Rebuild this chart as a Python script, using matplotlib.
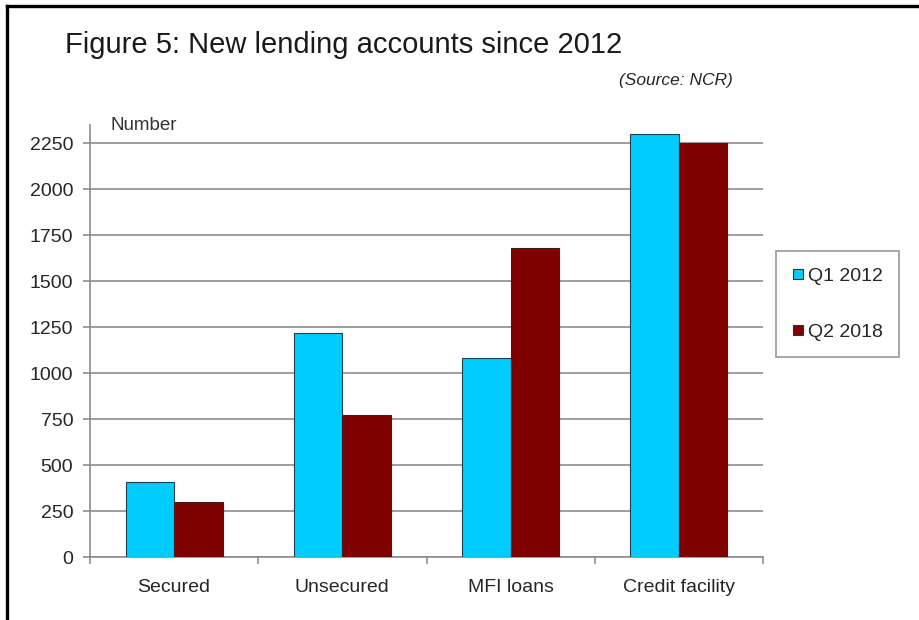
import numpy as np
import matplotlib.pyplot as plt
from matplotlib.lines import Line2D

plt.rcParams['font.family'] = ['Liberation Sans', 'DejaVu Sans']

categories = ['Secured', 'Unsecured', 'MFI loans', 'Credit facility']
q1_2012 = [410, 1220, 1080, 2300]
q2_2018 = [300, 770, 1680, 2250]
series_names = ['Q1 2012', 'Q2 2018']
yticks = [0, 250, 500, 750, 1000, 1250, 1500, 1750, 2000, 2250]

cyan = '#00ccff'
maroon = '#800000'
grid_grey = '#8c8c8c'
text_col = '#262626'

fig = plt.figure(figsize=(9.19, 6.2), dpi=100)
ax = fig.add_axes([0.0979, 0.1016, 0.7324, 0.6968])

x = np.arange(len(categories))
w = 0.288
ax.bar(x - w / 2, q1_2012, w, color=cyan, edgecolor='#1f3f4f', linewidth=0.8, zorder=3)
ax.bar(x + w / 2, q2_2018, w, color=maroon, edgecolor='#3a2020', linewidth=0.8, zorder=3)

ax.set_xlim(-0.5, len(categories) - 0.5)
ax.set_ylim(0, 2350)
ax.set_yticks(yticks)
ax.set_yticklabels([str(v) for v in yticks], fontsize=14, color=text_col)
ax.yaxis.grid(True, color=grid_grey, linewidth=1.2, zorder=0)
ax.set_axisbelow(True)

# labels sit in the middle of each group, tick marks on the boundaries
ax.set_xticks(x)
ax.set_xticklabels(categories, fontsize=14, color=text_col)
ax.set_xticks(np.arange(-0.5, len(categories)), minor=True)
ax.tick_params(axis='x', which='major', length=0, pad=16)
ax.tick_params(axis='x', which='minor', length=5, color=grid_grey, width=1.2)
ax.tick_params(axis='y', length=5, color=grid_grey, width=1.2, pad=7)

for side in ['top', 'right']:
    ax.spines[side].set_visible(False)
for side in ['left', 'bottom']:
    ax.spines[side].set_color(grid_grey)
    ax.spines[side].set_linewidth(1.2)

fig.text(65 / 919, 1 - 45 / 620, 'Figure 5: New lending accounts since 2012',
         fontsize=21, color='#1a1a1a', va='center', ha='left')
fig.text(733 / 919, 1 - 81 / 620, '(Source: NCR)', fontsize=12.5, style='italic',
         color=text_col, va='center', ha='right')
fig.text(110 / 919, 1 - 125 / 620, 'Number', fontsize=13.5, color='#333333',
         va='center', ha='left')

handles = [Line2D([], [], marker='s', linestyle='none', markersize=7.5,
                  markerfacecolor=c, markeredgecolor='#333333', markeredgewidth=0.8)
           for c in [cyan, maroon]]
leg = fig.legend(handles, series_names, loc='upper left',
                 bbox_to_anchor=(776 / 919, 1 - 251 / 620), fontsize=14,
                 frameon=True, fancybox=False, edgecolor='#7f7f7f',
                 handlelength=0.6, handletextpad=0.2, labelspacing=1.95,
                 borderpad=0.85, borderaxespad=0)
leg.get_frame().set_linewidth(1.2)
for t in leg.get_texts():
    t.set_color(text_col)

# black frame along the top and left edges
fig.add_artist(Line2D([6.5 / 919, 1], [1 - 5.5 / 620, 1 - 5.5 / 620],
                      transform=fig.transFigure, color='black', linewidth=2.4))
fig.add_artist(Line2D([6.5 / 919, 6.5 / 919], [0, 1 - 5.5 / 620],
                      transform=fig.transFigure, color='black', linewidth=2.4))

fig.savefig('out.png', dpi=100)
